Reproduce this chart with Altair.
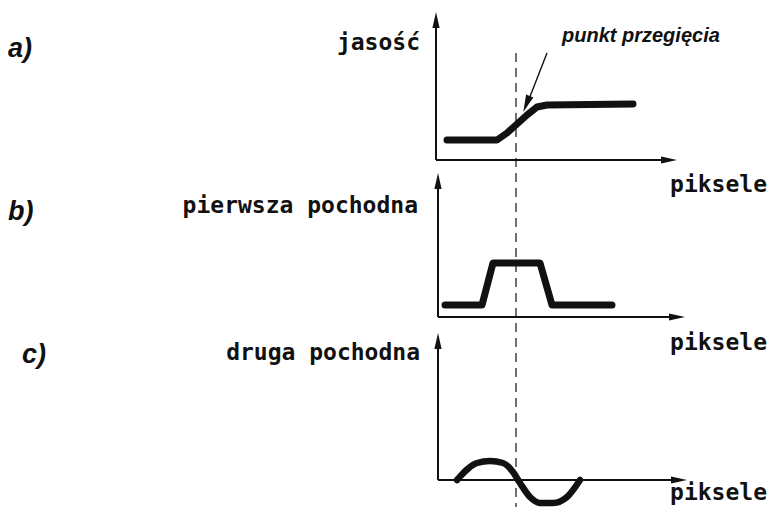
import altair as alt
import pandas as pd

# ---- curve data (local units: along "piksele" axis, value above the x-axis) ----
a_x = [11, 61, 71, 81, 91, 101, 111, 197]
a_y = [20, 20, 27, 36, 45, 53, 55, 56]
b_x = [7, 44, 55, 102, 114, 174]
b_y = [12, 12, 54, 54, 12, 12]
c_x = [19, 39, 52, 65, 75, 82, 92, 102, 115, 129, 142]
c_y = [0, 17, 19, 17, 8, -3, -17, -23, -23, -17, 0]

panels = ["a", "b", "c"]
panel_letters = ["a)", "b)", "c)"]
y_titles = ["jasość", "pierwsza pochodna", "druga pochodna"]
x_title = "piksele"
annotation = "punkt przegięcia"

# ---- layout (diagram frame, y pointing up) ----
origin_x = {"a": 436, "b": 438, "c": 438}
origin_y = {"a": 355, "b": 198, "c": 35}
axis_len_x = {"a": 241, "b": 247, "c": 249}
axis_len_y = {"a": 148, "b": 144, "c": 147}
letter_pos = {"a": (8, 458), "b": (8, 295), "c": (22, 152)}
ytitle_pos = {"a": (420, 465), "b": (418, 302), "c": (420, 155)}
xtitle_pos = {"a": (767, 323), "b": (767, 165), "c": (767, 15)}
dash_x = 516
dash_top, dash_bottom = 462, 8

INK = "#111111"

curve_rows = []
for p, xs, ys in (("a", a_x, a_y), ("b", b_x, b_y), ("c", c_x, c_y)):
    for i, (xv, yv) in enumerate(zip(xs, ys)):
        curve_rows.append({"panel": p, "i": i, "x": origin_x[p] + xv, "y": origin_y[p] + yv})
curves = pd.DataFrame(curve_rows)

axis_rows, head_rows = [], []
for p in panels:
    ox, oy = origin_x[p], origin_y[p]
    lx, ly = axis_len_x[p], axis_len_y[p]
    axis_rows.append({"x": ox, "y": oy, "x2": ox, "y2": oy + ly - 6})
    axis_rows.append({"x": ox, "y": oy, "x2": ox + lx - 6, "y2": oy})
    head_rows.append({"x": ox, "y": oy + ly - 8, "angle": 0, "s": 256})
    head_rows.append({"x": ox + lx - 8, "y": oy, "angle": 90, "s": 256})
# arrowhead of the annotation arrow
head_rows.append({"x": 526.5, "y": 411, "angle": 201.8, "s": 300})
axes_df = pd.DataFrame(axis_rows)
heads_df = pd.DataFrame(head_rows)

dash_df = pd.DataFrame([{"x": dash_x, "y": dash_top, "y2": dash_bottom}])
ann_line = pd.DataFrame([{"x": 547, "y": 462, "x2": 527.5, "y2": 412}])

letters_df = pd.DataFrame([{"t": l, "x": letter_pos[p][0], "y": letter_pos[p][1]}
                           for p, l in zip(panels, panel_letters)])
ytitles_df = pd.DataFrame([{"t": t, "x": ytitle_pos[p][0], "y": ytitle_pos[p][1]}
                           for p, t in zip(panels, y_titles)])
xtitles_df = pd.DataFrame([{"t": x_title, "x": xtitle_pos[p][0], "y": xtitle_pos[p][1]}
                           for p in panels])
ann_df = pd.DataFrame([{"t": annotation, "x": 562, "y": 473}])

xs = alt.Scale(domain=[8, 767], nice=False, zero=False)
ys = alt.Scale(domain=[8, 507], nice=False, zero=False)
X = lambda f="x": alt.X(f"{f}:Q", scale=xs, axis=None)
Y = lambda f="y": alt.Y(f"{f}:Q", scale=ys, axis=None)

curve_ab = alt.Chart(curves[curves.panel != "c"]).mark_line(
    color=INK, strokeWidth=7, strokeCap="round", strokeJoin="round"
).encode(x=X(), y=Y(), detail="panel:N", order="i:Q")

curve_c = alt.Chart(curves[curves.panel == "c"]).mark_line(
    color=INK, strokeWidth=6.5, strokeCap="round", strokeJoin="round", interpolate="monotone"
).encode(x=X(), y=Y(), order="i:Q")

axes_layer = alt.Chart(axes_df).mark_rule(color=INK, strokeWidth=2).encode(
    x=X(), y=Y(), x2="x2:Q", y2="y2:Q")

heads = alt.Chart(heads_df).mark_point(
    shape="M0,-1L0.45,1L-0.45,1Z", filled=True, opacity=1, color=INK, strokeWidth=0
).encode(x=X(), y=Y(), angle=alt.Angle("angle:Q", scale=None), size=alt.Size("s:Q", scale=None))

dashed = alt.Chart(dash_df).mark_rule(color="#222222", strokeWidth=1.3, strokeDash=[9, 6]).encode(
    x=X(), y=Y(), y2="y2:Q")

ann_rule = alt.Chart(ann_line).mark_rule(color=INK, strokeWidth=1.4).encode(
    x=X(), y=Y(), x2="x2:Q", y2="y2:Q")

letters = alt.Chart(letters_df).mark_text(
    font="Liberation Sans", fontStyle="italic", fontWeight="bold", fontSize=27, align="left",
    baseline="alphabetic", color=INK
).encode(x=X(), y=Y(), text="t:N")

ytitles = alt.Chart(ytitles_df).mark_text(
    font="DejaVu Sans Mono", fontWeight="bold", fontSize=23, align="right",
    baseline="alphabetic", color=INK
).encode(x=X(), y=Y(), text="t:N")

xtitles = alt.Chart(xtitles_df).mark_text(
    font="DejaVu Sans Mono", fontWeight="bold", fontSize=23, align="right",
    baseline="alphabetic", color=INK
).encode(x=X(), y=Y(), text="t:N")

ann_text = alt.Chart(ann_df).mark_text(
    font="Liberation Sans", fontStyle="italic", fontWeight="bold", fontSize=20,
    align="left", baseline="alphabetic", color=INK
).encode(x=X(), y=Y(), text="t:N")

chart = alt.layer(
    dashed, axes_layer, heads, curve_ab, curve_c, ann_rule, letters, ytitles, xtitles, ann_text
).properties(
    width=759, height=499, padding=0, autosize="none", background="white"
).configure_view(stroke=None)

chart.save("out.html", embed_options={"renderer": "svg", "actions": False})
